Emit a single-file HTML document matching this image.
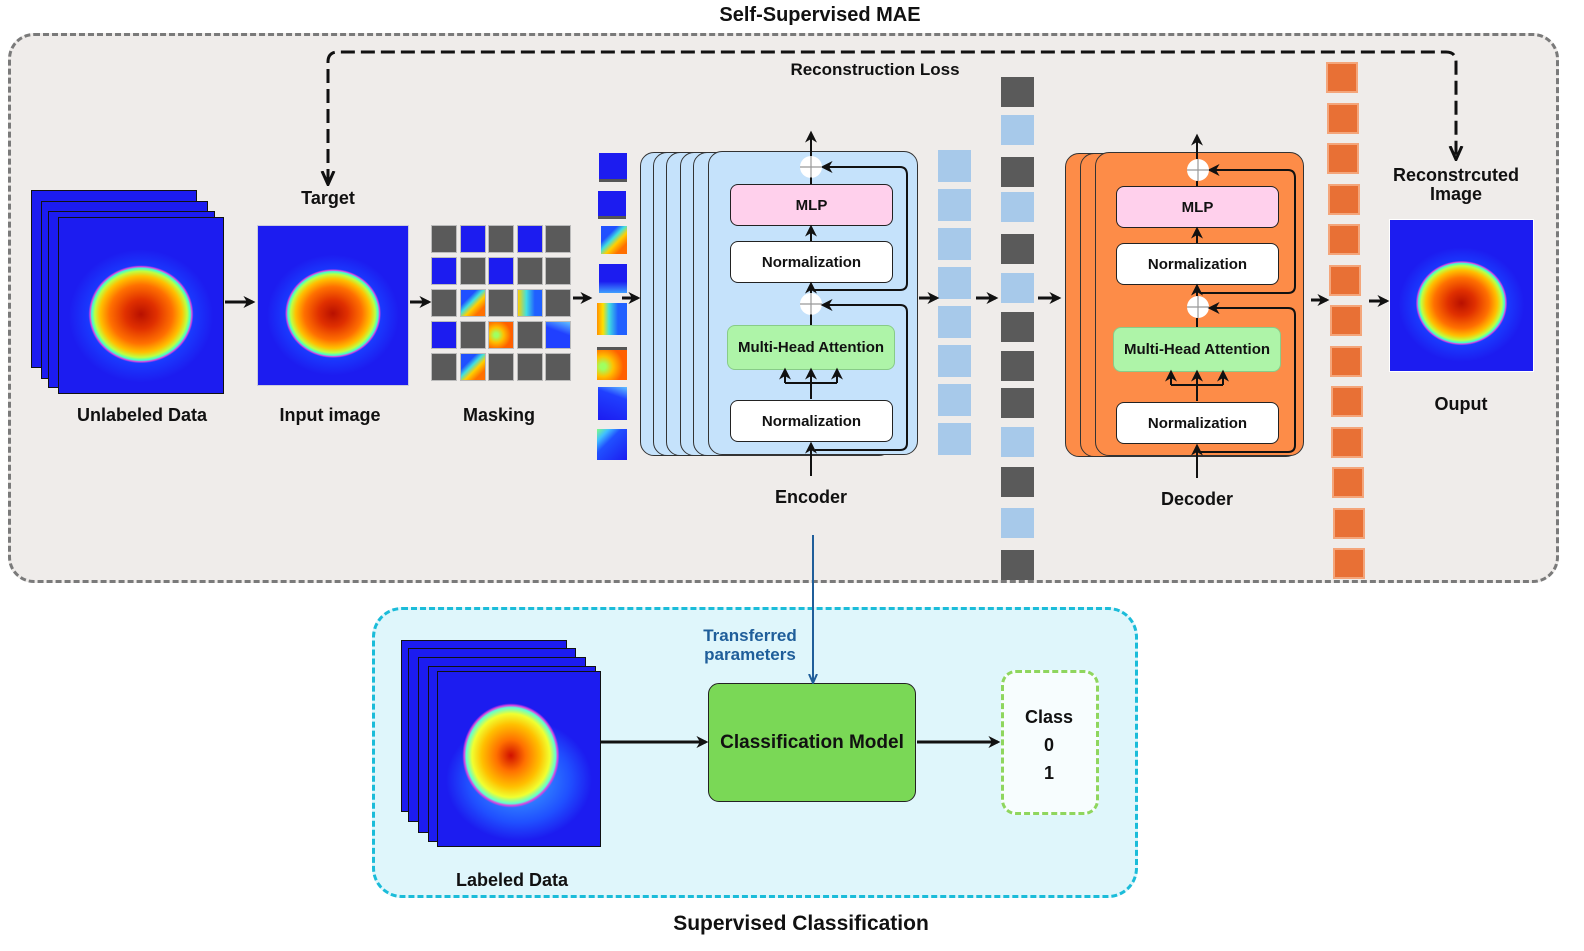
<!DOCTYPE html>
<html><head><meta charset="utf-8"><style>
*{margin:0;padding:0;box-sizing:border-box}
body{width:1584px;height:951px;background:#fff;position:relative;overflow:hidden;font-family:"Liberation Sans",Arial,sans-serif;font-weight:bold;color:#111}
.a{position:absolute}
.t{position:absolute;white-space:nowrap;transform:translateX(-50%);font-weight:bold}
.heat{position:absolute;border:1px solid #111;background:
radial-gradient(ellipse 32% 28% at 50% 55%,#b81000 0%,#e03000 30%,#ff7000 60%,#ffc000 78%,#c0ff40 88%,#40ffd0 94%,#e040e0 97%,rgba(40,120,255,0) 100%),
radial-gradient(ellipse 44% 38% at 50% 56%,#3080ff 0%,#1a3cff 70%,rgba(20,20,240,0) 100%),#1c1cf0}
.blue{position:absolute;background:#1c1cf0;border:1px solid #111}
.box{position:absolute;border:1.5px solid #222;border-radius:8px;display:flex;align-items:center;justify-content:center;font-size:15px}
.plus{position:absolute;width:22px;height:22px;border-radius:50%;background:#fff}
.sq{position:absolute}
</style></head><body>
<div class="a" style="left:8px;top:33px;width:1551px;height:550px;border:3px dashed #7a7a7a;border-radius:26px;background:#efecea"></div>
<div class="t" style="left:820px;top:4px;font-size:20px">Self-Supervised MAE</div>
<div class="t" style="left:875px;top:60px;font-size:17px">Reconstruction Loss</div>

<div class="blue" style="left:31px;top:190px;width:166px;height:178px"></div>
<div class="blue" style="left:41px;top:201px;width:167px;height:178px"></div>
<div class="blue" style="left:48px;top:211px;width:167px;height:177px"></div>
<div class="heat" style="left:58px;top:217px;width:166px;height:177px"></div>
<div class="t" style="left:142px;top:405px;font-size:18px">Unlabeled Data</div>

<div class="heat" style="left:257px;top:225px;width:152px;height:161px;border-color:#ccd"></div>
<div class="t" style="left:328px;top:188px;font-size:18px">Target</div>
<div class="t" style="left:330px;top:405px;font-size:18px">Input image</div>

<div id="grid"></div>
<div class="t" style="left:499px;top:405px;font-size:18px">Masking</div>

<div class="sq" style="left:599px;top:153px;width:28px;height:29px;background:#1c1cf0;border-bottom:3px solid #555"></div>
<div class="sq" style="left:598px;top:191px;width:28px;height:28px;background:#1c1cf0;border-bottom:3px solid #555"></div>
<div class="sq" style="left:601px;top:226px;width:26px;height:28px;background:linear-gradient(135deg,#2050ff 30%,#40e0e0 45%,#ffd000 60%,#ff7000 80%)"></div>
<div class="sq" style="left:599px;top:264px;width:28px;height:29px;background:linear-gradient(180deg,#1c1cf0 60%,#40a0ff)"></div>
<div class="sq" style="left:597px;top:303px;width:30px;height:32px;background:linear-gradient(90deg,#ff9000,#ffe000 20%,#40e0e0 40%,#2060ff 70%)"></div>
<div class="sq" style="left:597px;top:347px;width:30px;height:33px;background:radial-gradient(circle at 20% 55%,#a0ff60 10%,#ffc000 35%,#ff6000 70%);border-top:3px solid #555"></div>
<div class="sq" style="left:598px;top:387px;width:29px;height:33px;background:linear-gradient(200deg,#60c0ff,#2040ff 30%,#1c1cf0)"></div>
<div class="sq" style="left:597px;top:429px;width:30px;height:31px;background:linear-gradient(135deg,#80ff80,#40c0ff 20%,#2050ff 40%,#1c1cf0)"></div>

<div class="a" style="left:640px;top:152px;width:200px;height:304px;border:1.5px solid #333;border-radius:14px;background:#c5e2fb"></div>
<div class="a" style="left:653px;top:152px;width:200px;height:304px;border:1.5px solid #333;border-radius:14px;background:#c5e2fb"></div>
<div class="a" style="left:666px;top:152px;width:200px;height:304px;border:1.5px solid #333;border-radius:14px;background:#c5e2fb"></div>
<div class="a" style="left:680px;top:152px;width:200px;height:304px;border:1.5px solid #333;border-radius:14px;background:#c5e2fb"></div>
<div class="a" style="left:693px;top:152px;width:200px;height:304px;border:1.5px solid #333;border-radius:14px;background:#c5e2fb"></div>
<div class="a" style="left:708px;top:151px;width:210px;height:304px;border:1.5px solid #333;border-radius:14px;background:#c5e2fb"></div>
<div class="box" style="left:730px;top:184px;width:163px;height:42px;background:#ffd0ec">MLP</div>
<div class="box" style="left:730px;top:241px;width:163px;height:42px;background:#fff">Normalization</div>
<div class="box" style="left:727px;top:325px;width:168px;height:45px;background:#aef4a8;border-color:#8c8;font-size:15px">Multi-Head Attention</div>
<div class="box" style="left:730px;top:400px;width:163px;height:42px;background:#fff">Normalization</div>
<div class="plus" style="left:800px;top:156px"></div>
<div class="plus" style="left:800px;top:293px"></div>
<div class="t" style="left:811px;top:487px;font-size:18px">Encoder</div>

<div id="lb"></div>
<div id="mix"></div>

<div class="a" style="left:1065px;top:153px;width:220px;height:304px;border:1.5px solid #333;border-radius:14px;background:#fd8c48"></div>
<div class="a" style="left:1080px;top:153px;width:220px;height:304px;border:1.5px solid #333;border-radius:14px;background:#fd8c48"></div>
<div class="a" style="left:1095px;top:152px;width:209px;height:304px;border:1.5px solid #333;border-radius:14px;background:#fd8c48"></div>
<div class="box" style="left:1116px;top:186px;width:163px;height:42px;background:#ffd0ec">MLP</div>
<div class="box" style="left:1116px;top:243px;width:163px;height:42px;background:#fff">Normalization</div>
<div class="box" style="left:1113px;top:327px;width:168px;height:45px;background:#aef4a8;border-color:#8c8">Multi-Head Attention</div>
<div class="box" style="left:1116px;top:402px;width:163px;height:42px;background:#fff">Normalization</div>
<div class="plus" style="left:1187px;top:159px"></div>
<div class="plus" style="left:1187px;top:296px"></div>
<div class="t" style="left:1197px;top:489px;font-size:18px">Decoder</div>

<div id="or"></div>

<div class="heat" style="left:1389px;top:219px;width:145px;height:153px;border-color:#fff"></div>
<div class="t" style="left:1456px;top:166px;font-size:18px;text-align:center;line-height:19px">Reconstrcuted<br>Image</div>
<div class="t" style="left:1461px;top:394px;font-size:18px">Ouput</div>

<div class="a" style="left:372px;top:607px;width:766px;height:291px;border:3px dashed #1bbcd9;border-radius:30px;background:#dff6fb"></div>
<div class="blue" style="left:401px;top:640px;width:166px;height:172px"></div>
<div class="blue" style="left:408px;top:648px;width:168px;height:174px"></div>
<div class="blue" style="left:418px;top:657px;width:168px;height:176px"></div>
<div class="blue" style="left:428px;top:666px;width:168px;height:176px"></div>
<div class="heat" style="left:437px;top:671px;width:164px;height:176px;background:
radial-gradient(ellipse 30% 30% at 45% 48%,#d01000 0%,#ff7000 30%,#ffc000 60%,#f0ff30 80%,#60ffd0 92%,#e040e0 96%,rgba(40,120,255,0) 100%),
radial-gradient(ellipse 45% 35% at 50% 62%,#40b0ff 0%,#2050ff 70%,rgba(20,20,240,0) 100%),#1c1cf0"></div>
<div class="t" style="left:512px;top:870px;font-size:18px">Labeled Data</div>
<div class="t" style="left:750px;top:626px;font-size:17px;color:#1f5e9a;text-align:center;line-height:19px">Transferred<br>parameters</div>
<div class="box" style="left:708px;top:683px;width:208px;height:119px;background:#7ad856;border-radius:11px;font-size:19px;color:#111">Classification Model</div>
<div class="a" style="left:1001px;top:670px;width:98px;height:145px;border:3px dashed #8fd65e;border-radius:15px;background:#f7fdfe"></div>
<div class="t" style="left:1049px;top:703px;font-size:18px;text-align:center;line-height:28px">Class<br>0<br>1</div>
<div class="t" style="left:801px;top:912px;font-size:21px">Supervised Classification</div>

<svg class="a" style="left:0;top:0" width="1584" height="951">
<defs>
<marker id="ar" viewBox="0 0 10 10" refX="8" refY="5" markerWidth="4" markerHeight="4" orient="auto"><path d="M0,0 L10,5 L0,10 L3,5z" fill="#111"/></marker>
<marker id="as" viewBox="0 0 10 10" refX="8" refY="5" markerWidth="6" markerHeight="6" orient="auto"><path d="M0,0 L10,5 L0,10 L3,5z" fill="#111"/></marker>
<marker id="ab" viewBox="0 0 10 10" refX="8" refY="5" markerWidth="5" markerHeight="5" orient="auto"><path d="M0,1 L9,5 L0,9" fill="none" stroke="#1f5e9a" stroke-width="2"/></marker>
<marker id="ak" viewBox="0 0 10 10" refX="8" refY="5" markerWidth="5" markerHeight="5" orient="auto-start-reverse"><path d="M0,1 L9,5 L0,9" fill="none" stroke="#111" stroke-width="2"/></marker>
</defs>
<g stroke="#111" stroke-width="3" fill="none">
<path d="M328,183 V62 Q328,52 338,52 H1446 Q1456,52 1456,62 V158" stroke-dasharray="14,6" marker-start="url(#ak)" marker-end="url(#ak)"/>
<line x1="225" y1="302" x2="253" y2="302" marker-end="url(#ar)"/>
<line x1="410" y1="302" x2="429" y2="302" marker-end="url(#ar)"/>
<line x1="573" y1="298" x2="590" y2="298" marker-end="url(#ar)"/>
<line x1="622" y1="298" x2="638" y2="298" marker-end="url(#ar)"/>
<line x1="919" y1="298" x2="937" y2="298" marker-end="url(#ar)"/>
<line x1="976" y1="298" x2="996" y2="298" marker-end="url(#ar)"/>
<line x1="1038" y1="298" x2="1059" y2="298" marker-end="url(#ar)"/>
<line x1="1311" y1="300" x2="1327" y2="300" marker-end="url(#ar)"/>
<line x1="1369" y1="301" x2="1387" y2="301" marker-end="url(#ar)"/>
<line x1="601" y1="742" x2="706" y2="742" marker-end="url(#ar)"/>
<line x1="917" y1="742" x2="998" y2="742" marker-end="url(#ar)"/>
</g>
<line x1="813" y1="535" x2="813" y2="682" stroke="#1f5e9a" stroke-width="2" marker-end="url(#ab)"/>
<g stroke="#111" stroke-width="2" fill="none">
<line x1="811" y1="476" x2="811" y2="444" marker-end="url(#as)"/>
<line x1="811" y1="399" x2="811" y2="370" marker-end="url(#as)"/>
<path d="M785,383 H837"/>
<line x1="785" y1="383" x2="785" y2="370" marker-end="url(#as)"/>
<line x1="837" y1="383" x2="837" y2="370" marker-end="url(#as)"/>
<line x1="811" y1="325" x2="811" y2="314"/>
<line x1="811" y1="293" x2="811" y2="284" marker-end="url(#as)"/>
<line x1="811" y1="241" x2="811" y2="227" marker-end="url(#as)"/>
<line x1="811" y1="184" x2="811" y2="177"/>
<line x1="811" y1="156" x2="811" y2="133" marker-end="url(#as)"/>
<path d="M815,450 H900 Q907,450 907,443 V312 Q907,305 900,305 H823" marker-end="url(#as)"/>
<path d="M813,290 H900 Q907,290 907,283 V175 Q907,167 900,167 H823" marker-end="url(#as)"/>
<line x1="1197" y1="478" x2="1197" y2="446" marker-end="url(#as)"/>
<line x1="1197" y1="401" x2="1197" y2="372" marker-end="url(#as)"/>
<path d="M1171,385 H1223"/>
<line x1="1171" y1="385" x2="1171" y2="372" marker-end="url(#as)"/>
<line x1="1223" y1="385" x2="1223" y2="372" marker-end="url(#as)"/>
<line x1="1197" y1="327" x2="1197" y2="318"/>
<line x1="1197" y1="296" x2="1197" y2="286" marker-end="url(#as)"/>
<line x1="1197" y1="243" x2="1197" y2="229" marker-end="url(#as)"/>
<line x1="1197" y1="186" x2="1197" y2="181"/>
<line x1="1197" y1="159" x2="1197" y2="136" marker-end="url(#as)"/>
<path d="M1200,452 H1288 Q1295,452 1295,445 V315 Q1295,308 1288,308 H1210" marker-end="url(#as)"/>
<path d="M1200,293 H1288 Q1295,293 1295,286 V178 Q1295,170 1288,170 H1210" marker-end="url(#as)"/>
</g>
<g stroke="#999" stroke-width="1.2"><line x1="800" y1="167" x2="822" y2="167"/><line x1="811" y1="156" x2="811" y2="178"/><line x1="800" y1="304" x2="822" y2="304"/><line x1="811" y1="293" x2="811" y2="315"/>
<line x1="1187" y1="170" x2="1209" y2="170"/><line x1="1198" y1="159" x2="1198" y2="181"/><line x1="1187" y1="307" x2="1209" y2="307"/><line x1="1198" y1="296" x2="1198" y2="318"/></g>
</svg>
<script>
(function(){
var g=document.getElementById('grid'),h='';
var m=[[1,0,1,0,1],[0,1,0,1,1],[1,0,1,0,1],[0,1,0,1,0],[1,0,1,1,1]];
var bg=['#1c1cf0','linear-gradient(135deg,#2050ff 30%,#40e0e0 45%,#ffd000 60%,#ff7000 80%)','radial-gradient(circle at 30% 50%,#a0ff60 10%,#ffc000 35%,#ff6000 70%)','linear-gradient(90deg,#ffd000,#40e0e0 35%,#2060ff 70%)','linear-gradient(200deg,#60c0ff,#2040ff 40%)'];
for(var r=0;r<5;r++)for(var c=0;c<5;c++){
var x=431+c*28.5,y=225+r*32;
var b=m[r][c]?'#5a5a5a':bg[(r*5+c)%5];
if(r==0||r==1)b=m[r][c]?'#5a5a5a':'#1c1cf0';
h+='<div class="sq" style="left:'+x+'px;top:'+y+'px;width:26px;height:28px;background:'+b+';border:1px solid #bbb"></div>';}
g.innerHTML=h;
var lb='';for(var i=0;i<8;i++)lb+='<div class="sq" style="left:938px;top:'+(150+i*39)+'px;width:33px;height:32px;background:#a7c9ea"></div>';
document.getElementById('lb').innerHTML=lb;
var ys=[77,115,157,192,234,273,312,351,388,427,467,508,550],cs=[1,0,1,0,1,0,1,1,1,0,1,0,1],mx='';
for(var i=0;i<13;i++)mx+='<div class="sq" style="left:1001px;top:'+ys[i]+'px;width:33px;height:30px;background:'+(cs[i]?'#5a5a5a':'#a7c9ea')+'"></div>';
document.getElementById('mix').innerHTML=mx;
var o='';for(var i=0;i<13;i++){var x=1326+i*0.6;o+='<div class="sq" style="left:'+x+'px;top:'+(62+i*40.5)+'px;width:32px;height:31px;background:#e87035;border:2px solid #f4a57a"></div>';}
document.getElementById('or').innerHTML=o;
})();
</script>
</body></html>
